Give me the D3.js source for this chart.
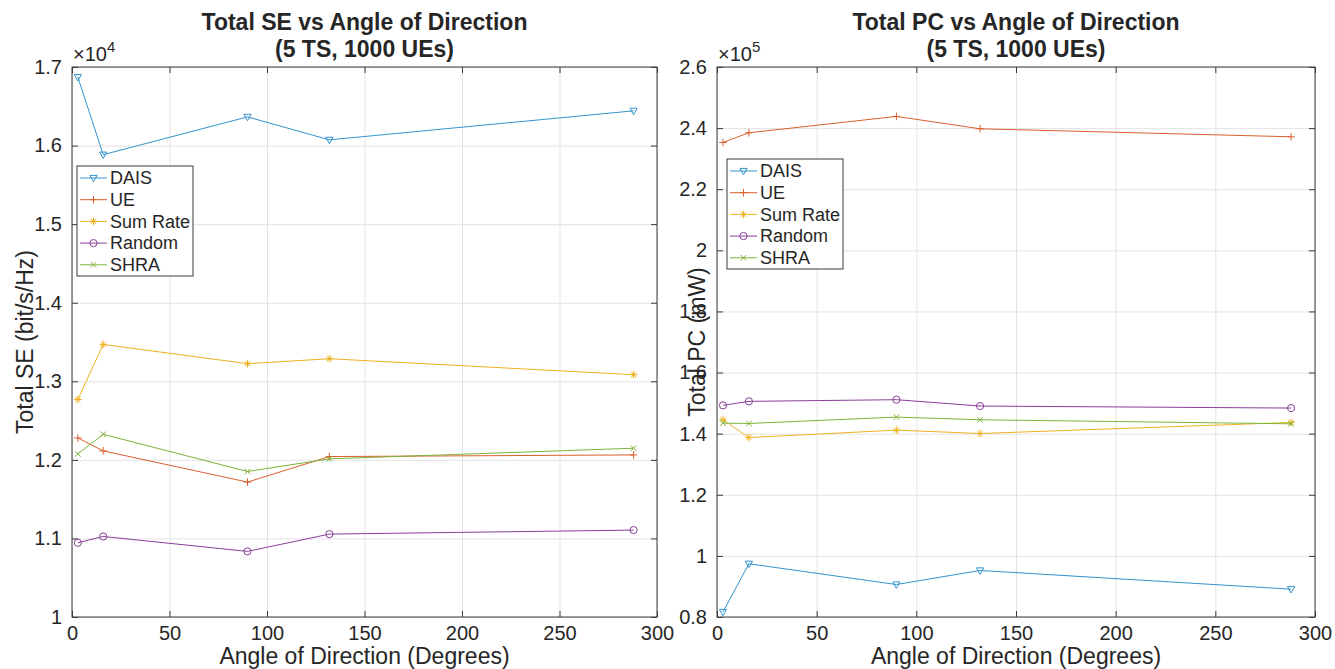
<!DOCTYPE html>
<html>
<head>
<meta charset="utf-8">
<script src="https://cdn.jsdelivr.net/npm/d3@7"></script>
<style>
  body { margin: 0; background: #fff; }
  text { font-family: "Liberation Sans", Arial, Helvetica, sans-serif; fill: #262626; }
</style>
</head>
<body>
<svg id="chart" width="1335" height="669"></svg>
<script>
// x values (angle of direction, degrees)
const angles = [3, 16, 90, 132, 288];
const names = ['DAIS', 'UE', 'Sum Rate', 'Random', 'SHRA'];
const colors = ['#3393cc', '#db5f2e', '#edb120', '#8a3f99', '#7db23a'];
const markers = ['tri', 'plus', 'star', 'circle', 'cross'];

// Total SE (bit/s/Hz)
const seDAIS = [16871, 15884, 16365, 16073, 16442];
const seUE = [12279, 12114, 11717, 12042, 12063];
const seSumRate = [12768, 13469, 13224, 13287, 13084];
const seRandom = [10945, 11025, 10835, 11055, 11106];
const seSHRA = [12076, 12325, 11852, 12013, 12148];

// Total PC (mW)
const pcDAIS = [81640, 97420, 90630, 95230, 89100];
const pcUE = [235300, 238470, 243830, 239780, 237160];
const pcSumRate = [144550, 138740, 141150, 140050, 143670];
const pcRandom = [149260, 150580, 151120, 149040, 148380];
const pcSHRA = [143450, 143340, 145420, 144550, 143230];

const panels = [
  {
    title: ['Total SE vs Angle of Direction', '(5 TS, 1000 UEs)'],
    ylabel: 'Total SE (bit/s/Hz)', exp: 4, domain: [10000, 17000], nt: 8,
    series: [seDAIS, seUE, seSumRate, seRandom, seSHRA],
    x0: 72, x1: 657, legend: [77, 166], ylabX: 25
  },
  {
    title: ['Total PC vs Angle of Direction', '(5 TS, 1000 UEs)'],
    ylabel: 'Total PC (mW)', exp: 5, domain: [80000, 260000], nt: 10,
    series: [pcDAIS, pcUE, pcSumRate, pcRandom, pcSHRA],
    x0: 717, x1: 1315, legend: [727, 159], ylabX: 697
  }
];

const plotTop = 67, plotBottom = 617;
const gridColor = '#e3e3e3', boxColor = '#3a3a3a';
const svg = d3.select('#chart');

function markerPath(type) {
  switch (type) {
    case 'tri': return 'M-3.6,-2.6L3.6,-2.6L0,3.8Z';
    case 'plus': return 'M-3.8,0H3.8M0,-3.8V3.8';
    case 'star': return 'M-3.8,0H3.8M0,-3.8V3.8M-2.7,-2.7L2.7,2.7M-2.7,2.7L2.7,-2.7';
    case 'cross': return 'M-2.8,-2.8L2.8,2.8M-2.8,2.8L2.8,-2.8';
    default: return null;
  }
}

function drawMarker(sel, type, color) {
  if (type === 'circle') {
    sel.append('circle').attr('r', 3.6).attr('fill', 'none').attr('stroke', color).attr('stroke-width', 1);
  } else {
    sel.append('path').attr('d', markerPath(type)).attr('fill', 'none').attr('stroke', color).attr('stroke-width', 1);
  }
}

panels.forEach(p => {
  const x = d3.scaleLinear().domain([0, 300]).range([p.x0, p.x1]);
  const y = d3.scaleLinear().domain(p.domain).range([plotBottom, plotTop]);
  const g = svg.append('g');
  const h = plotBottom - plotTop, w = p.x1 - p.x0;
  const scale = Math.pow(10, p.exp);
  const fmt = d => d3.format('~f')(+(d / scale).toFixed(2));

  // grid
  g.append('g').attr('transform', `translate(0,${plotBottom})`)
    .call(d3.axisBottom(x).ticks(6).tickSize(-h).tickFormat(''))
    .call(a => a.select('.domain').remove())
    .selectAll('line').attr('stroke', gridColor);
  g.append('g').attr('transform', `translate(${p.x0},0)`)
    .call(d3.axisLeft(y).ticks(p.nt).tickSize(-w).tickFormat(''))
    .call(a => a.select('.domain').remove())
    .selectAll('line').attr('stroke', gridColor);

  // box
  g.append('rect').attr('x', p.x0).attr('y', plotTop).attr('width', w).attr('height', h)
    .attr('fill', 'none').attr('stroke', boxColor).attr('stroke-width', 1);

  // inward ticks + labels
  const styleAxis = a => {
    a.select('.domain').remove();
    a.selectAll('line').attr('stroke', boxColor);
    a.selectAll('text').attr('font-size', 20).attr('fill', '#262626')
      .attr('font-family', '"Liberation Sans", Arial, sans-serif');
  };
  g.append('g').attr('transform', `translate(0,${plotBottom})`)
    .call(d3.axisBottom(x).ticks(6).tickSize(-6).tickPadding(9)).call(styleAxis);
  g.append('g').attr('transform', `translate(0,${plotTop})`)
    .call(d3.axisTop(x).ticks(6).tickSize(-6).tickFormat('')).call(styleAxis);
  g.append('g').attr('transform', `translate(${p.x0},0)`)
    .call(d3.axisLeft(y).ticks(p.nt).tickSize(-6).tickPadding(10).tickFormat(fmt)).call(styleAxis);
  g.append('g').attr('transform', `translate(${p.x1},0)`)
    .call(d3.axisRight(y).ticks(p.nt).tickSize(-6).tickFormat('')).call(styleAxis);

  // exponent
  const ex = g.append('text').attr('x', p.x0 + 1).attr('y', plotTop - 6).attr('font-size', 20);
  ex.append('tspan').text('\u00d710');
  ex.append('tspan').attr('font-size', 15).attr('dy', -9).text(p.exp);

  // titles
  const cx = (p.x0 + p.x1) / 2;
  g.append('text').attr('x', cx).attr('y', 30).attr('text-anchor', 'middle')
    .attr('font-size', 23).attr('font-weight', 'bold').attr('fill', '#000').text(p.title[0]);
  g.append('text').attr('x', cx).attr('y', 57).attr('text-anchor', 'middle')
    .attr('font-size', 23).attr('font-weight', 'bold').attr('fill', '#000').text(p.title[1]);

  // axis labels
  g.append('text').attr('x', cx).attr('y', 664).attr('text-anchor', 'middle')
    .attr('font-size', 23).text('Angle of Direction (Degrees)');
  g.append('text').attr('transform', `translate(${p.ylabX},${(plotTop + plotBottom) / 2}) rotate(-90)`)
    .attr('text-anchor', 'middle').attr('dy', '0.35em').attr('font-size', 23).text(p.ylabel);

  // series
  const line = d3.line().x((d, i) => x(angles[i])).y(d => y(d));
  p.series.forEach((vals, si) => {
    g.append('path').datum(vals).attr('d', line).attr('fill', 'none')
      .attr('stroke', colors[si]).attr('stroke-width', 1);
    vals.forEach((v, i) => {
      const m = g.append('g').attr('transform', `translate(${x(angles[i])},${y(v)})`);
      drawMarker(m, markers[si], colors[si]);
    });
  });

  // legend
  const [lx, ly] = p.legend;
  const lg = g.append('g').attr('transform', `translate(${lx},${ly})`);
  lg.append('rect').attr('width', 116).attr('height', 110).attr('fill', '#fff')
    .attr('stroke', boxColor).attr('stroke-width', 1);
  names.forEach((n, i) => {
    const yy = 12 + i * 21.7;
    lg.append('line').attr('x1', 3).attr('x2', 30).attr('y1', yy).attr('y2', yy)
      .attr('stroke', colors[i]).attr('stroke-width', 1);
    drawMarker(lg.append('g').attr('transform', `translate(16.5,${yy})`), markers[i], colors[i]);
    lg.append('text').attr('x', 33).attr('y', yy).attr('dy', '0.35em')
      .attr('font-size', 18).attr('fill', '#000').text(n);
  });
});
</script>
</body>
</html>
